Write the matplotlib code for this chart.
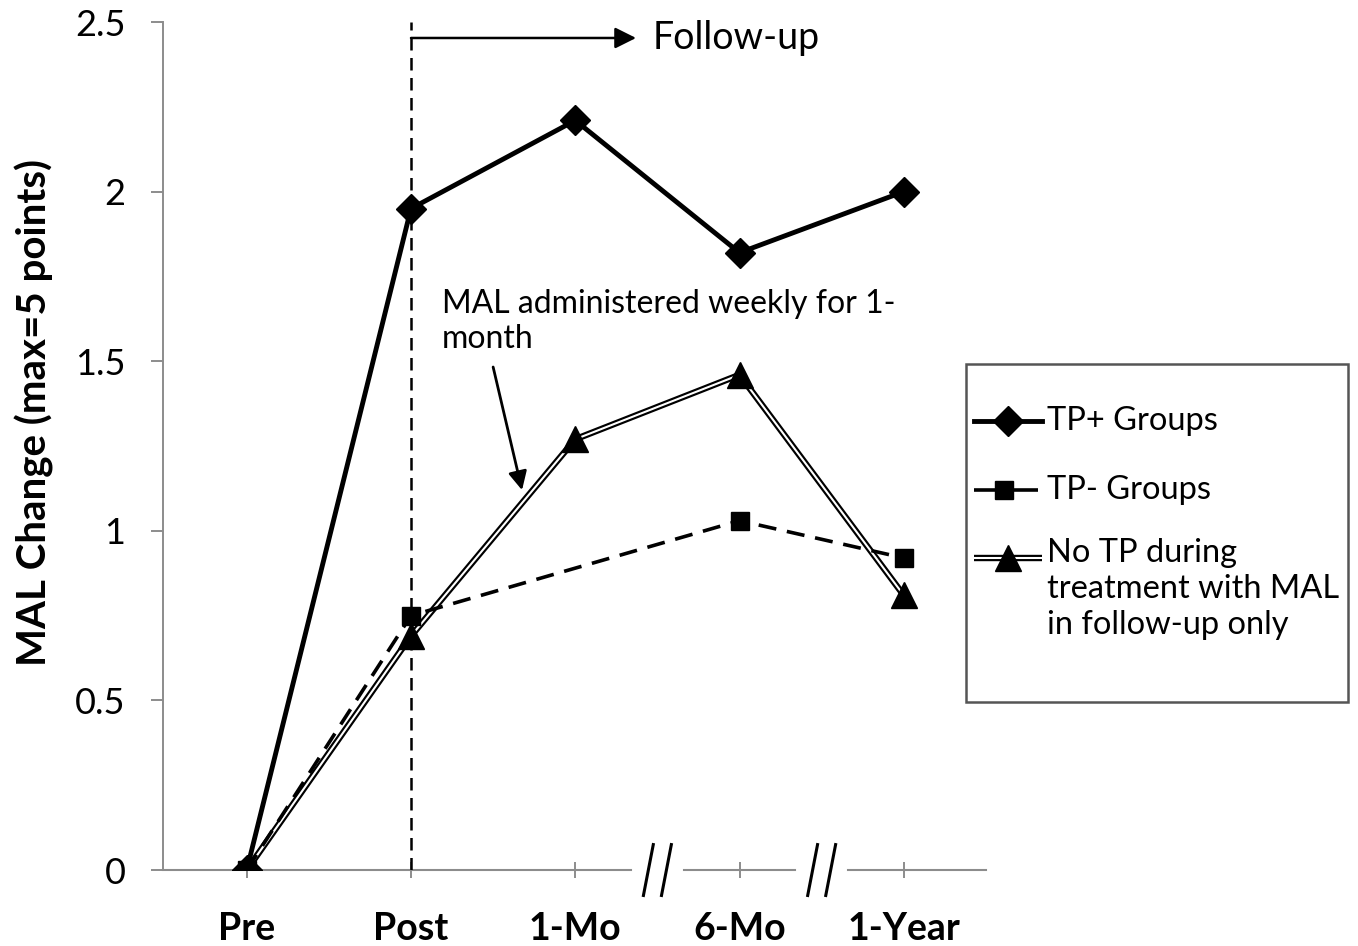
import numpy as np
import matplotlib
matplotlib.use("Agg")
import matplotlib.pyplot as plt
from matplotlib.patches import Rectangle

plt.rcParams["font.family"] = ["Lato", "DejaVu Sans"]

categorias = ["Pre", "Post", "1-Mo", "6-Mo", "1-Year"]
tp_mas = [0.0, 1.95, 2.21, 1.82, 2.00]
tp_menos = [0.0, 0.75, None, 1.03, 0.92]
sin_tp = [0.0, 0.69, 1.27, 1.46, 0.81]
etiquetas = ["TP+ Groups", "TP- Groups",
             "No TP during\ntreatment with MAL\nin follow-up only"]

x = np.arange(len(categorias))

fig = plt.figure(figsize=(13.58, 9.46), dpi=100)
ax = fig.add_axes([0.120, 0.0803, 0.606, 0.8964])

gris = "#8c8c8c"

# estilos de cada serie (se reutilizan en la leyenda)
estilo_mas = dict(color="black", lw=3.5, marker="D", ms=15)
estilo_menos = dict(color="black", lw=2.6, ls=(0, (5, 3)), marker="s", ms=13)
estilo_sin_ext = dict(color="black", lw=4.6, solid_capstyle="butt")
estilo_sin_int = dict(color="white", lw=1.5, solid_capstyle="butt")
estilo_sin_mk = dict(ls="none", marker="^", ms=19, color="black")

# linea triple (negro con centro blanco)
ax.plot(x, sin_tp, zorder=3, **estilo_sin_ext)
ax.plot(x, sin_tp, zorder=3.1, **estilo_sin_int)
ax.plot(x, sin_tp, zorder=3.2, **estilo_sin_mk)

xm = [xi for xi, v in zip(x, tp_menos) if v is not None]
ym = [v for v in tp_menos if v is not None]
ax.plot(xm, ym, zorder=4, **estilo_menos)

ax.plot(x, tp_mas, zorder=5, **estilo_mas)

ax.set_xlim(-0.51, 4.5)
ax.set_ylim(0, 2.5)
ax.set_yticks([0, 0.5, 1, 1.5, 2, 2.5])
ax.set_yticklabels(["0", "0.5", "1", "1.5", "2", "2.5"])
ax.set_xticks(x)
ax.set_xticklabels(categorias, fontweight="bold")
ax.tick_params(axis="y", labelsize=26, color=gris, length=9, width=1.4, pad=18)
ax.tick_params(axis="x", labelsize=27, color=gris, length=11, width=1.4,
               direction="inout", pad=25)
ax.set_ylabel("MAL Change (max=5 points)", fontsize=29, fontweight="bold")
ax.yaxis.set_label_coords(-0.132, 0.54)

for s in ["top", "right", "bottom"]:
    ax.spines[s].set_visible(False)
ax.spines["left"].set_color(gris)
ax.spines["left"].set_linewidth(1.4)

# eje x con cortes
gap = 0.16
cortes = [2.5, 3.5]
inicio = -0.51
for c in cortes:
    ax.plot([inicio, c - gap], [0, 0], color=gris, lw=1.5, clip_on=False,
            zorder=1)
    inicio = c + gap
    for d in (-0.055, 0.055):
        ax.plot([c + d - 0.03, c + d + 0.03], [-0.075, 0.075], color="black",
                lw=2.2, clip_on=False, zorder=1)
ax.plot([inicio, 4.5], [0, 0], color=gris, lw=1.5, clip_on=False, zorder=1)

# seguimiento
ax.plot([1, 1], [0, 2.5], color="black", lw=1.8, ls=(0, (5, 3)), zorder=2)
ax.annotate("", xy=(2.37, 2.453), xytext=(1, 2.453),
            arrowprops=dict(arrowstyle="-|>", color="black", lw=1.8,
                            mutation_scale=32, shrinkA=0, shrinkB=0))
ax.text(2.47, 2.453, "Follow-up", fontsize=27, va="center", ha="left")

ax.text(1.19, 1.618, "MAL administered weekly for 1-\nmonth", fontsize=23,
        va="center", ha="left", linespacing=1.2)
ax.annotate("", xy=(1.676, 1.12), xytext=(1.5, 1.483),
            arrowprops=dict(arrowstyle="-|>", color="black", lw=2.0,
                            mutation_scale=28, shrinkA=0, shrinkB=0))

# leyenda dibujada a mano en pixeles de la figura
lg = fig.add_axes([0, 0, 1, 1], facecolor="none")
lg.set_xlim(0, 1358)
lg.set_ylim(946, 0)
lg.axis("off")
lg.add_patch(Rectangle((966, 364), 382, 338, fill=False, edgecolor="#555555",
                       lw=1.8))
fs_leg = 23.5
h0, h1 = 974, 1042
lg.plot([h0, h1], [421, 421], color="black", lw=3.5)
lg.plot([1008], [421], ls="none", marker="D", ms=15, color="black")
lg.text(1047, 421, etiquetas[0], fontsize=fs_leg, va="center", ha="left")

lg.plot([h0, 1038], [490, 490], color="black", lw=2.6, solid_capstyle="butt")
lg.plot([1004], [490], ls="none", marker="s", ms=13, color="black")
lg.text(1047, 490, etiquetas[1], fontsize=fs_leg, va="center", ha="left")

lg.plot([h0, h1], [558, 558], **estilo_sin_ext)
lg.plot([h0, h1], [558, 558], **estilo_sin_int)
lg.plot([1008], [558], **estilo_sin_mk)
lg.text(1047, 538, etiquetas[2], fontsize=fs_leg, va="top", ha="left",
        linespacing=1.25)

plt.savefig("out.png", dpi=100)
